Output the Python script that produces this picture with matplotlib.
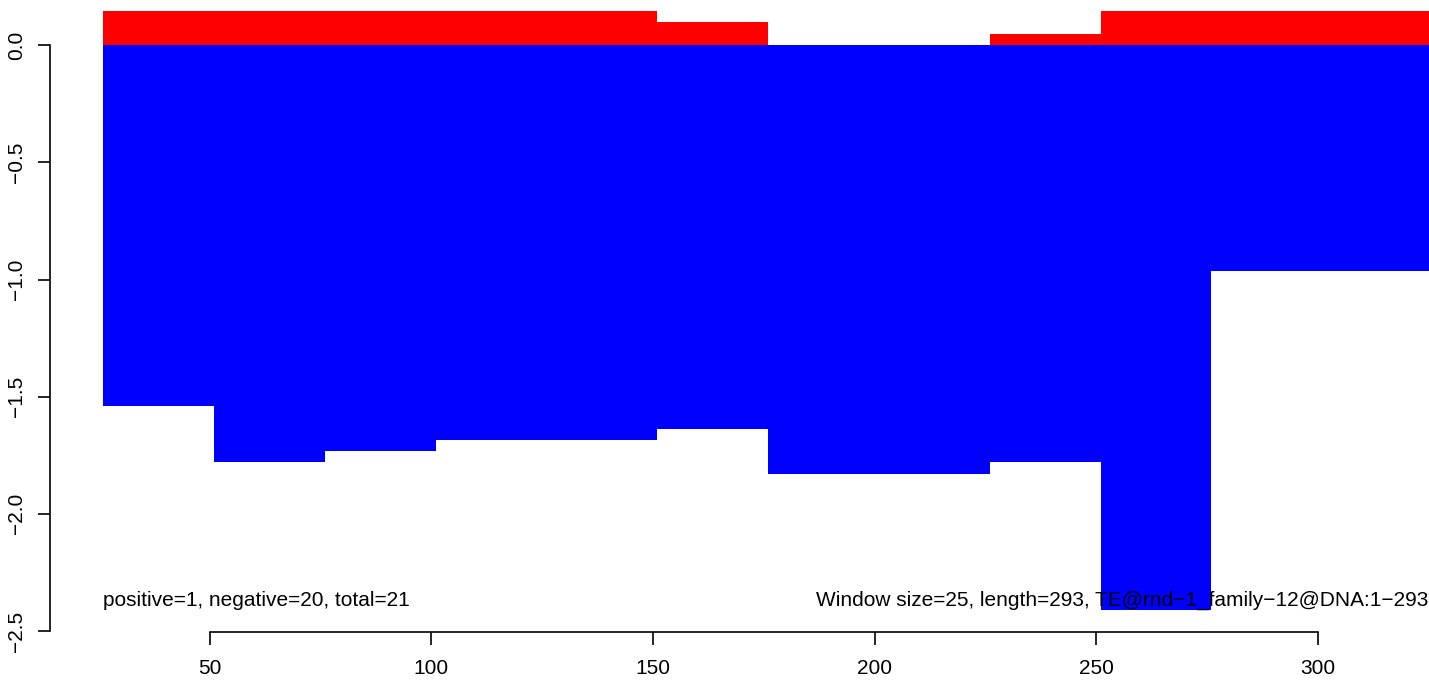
import matplotlib.pyplot as plt
import numpy as np

plt.rcParams['font.family'] = ['Liberation Sans', 'DejaVu Sans']

# sliding windows of 25 along the element
win_start = np.arange(26, 326, 25)
win_size = 25
neg_vals = [-1.54, -1.78, -1.73, -1.685, -1.685, -1.64, -1.83, -1.83, -1.78, -2.41, -0.965, -0.965]
pos_vals = [0.5, 0.5, 0.5, 0.5, 0.5, 0.098, 0.0, 0.0, 0.047, 0.5, 0.5, 0.5]

left_txt = 'positive=1, negative=20, total=21'
right_txt = 'Window size=25, length=293, TE@rnd\u22121_family\u221212@DNA:1\u2212293'

f1 = plt.figure(figsize=(14.29, 6.80), dpi=100, facecolor='w')
ax = f1.add_axes([50/1429, 49/680, 1 - 50/1429, (631-11)/680])

ax.bar(win_start, pos_vals, width=win_size, align='edge', color='red', linewidth=0)
ax.bar(win_start, neg_vals, width=win_size, align='edge', color='blue', linewidth=0)
ax.hlines(0, win_start[0], win_start[-1] + win_size, color='#bbbbbb', lw=0.8, zorder=0.5)

ax.set_xlim(13.95, 325.1)
ax.set_ylim(-2.5, 0.146)

for s in ['top', 'right']:
    ax.spines[s].set_visible(False)
ax.spines['left'].set_bounds(-2.5, 0.0)
ax.spines['bottom'].set_bounds(50, 300)
ax.spines['bottom'].set_position(('outward', 1))
for s in ['left', 'bottom']:
    ax.spines[s].set_linewidth(1.2)

ax.set_xticks([50, 100, 150, 200, 250, 300])
ax.set_yticks([-2.5, -2.0, -1.5, -1.0, -0.5, 0.0])
ax.set_yticklabels(['\u22122.5', '\u22122.0', '\u22121.5', '\u22121.0', '\u22120.5', '0.0'],
                   rotation=90, va='center')
ax.tick_params(axis='both', labelsize=15, length=9, width=1.2)
ax.tick_params(axis='x', pad=10)
ax.tick_params(axis='y', pad=8)

ax.text(26, -2.37, left_txt, fontsize=15, ha='left', va='center')
ax.text(325.0, -2.37, right_txt, fontsize=15, ha='right', va='center')

plt.savefig('out.png')
